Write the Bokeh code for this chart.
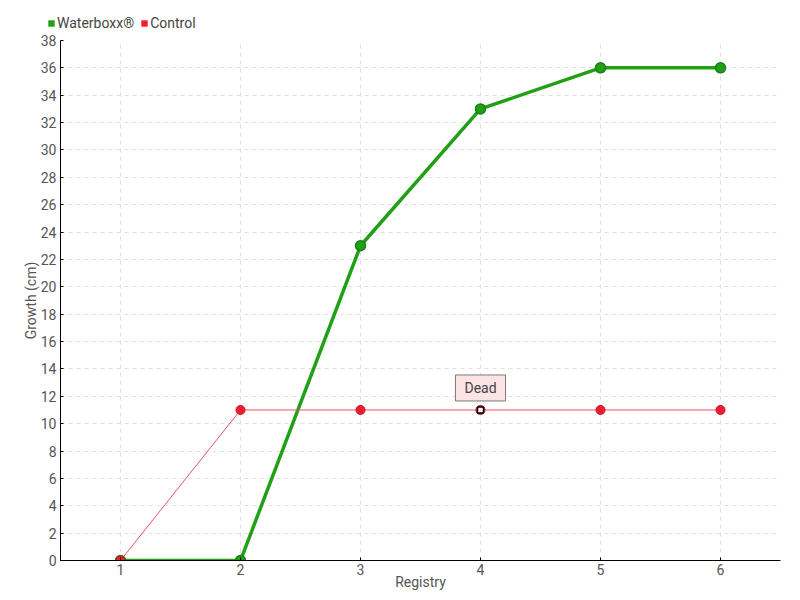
from bokeh.plotting import figure
from bokeh.layouts import column
from bokeh.models import ColumnDataSource, Legend, LegendItem, Label, FixedTicker, Range1d
from bokeh.embed import file_html
from bokeh.resources import INLINE

registry = [1, 2, 3, 4, 5, 6]
waterboxx = [0, 0, 23, 33, 36, 36]
control = [0, 11, 11, 11, 11, 11]
dead_x = [4]
dead_y = [11]
y_ticks = list(range(0, 40, 2))
series_names = ["Waterboxx®", "Control"]

FONT = "Roboto, sans-serif"
GREEN = "#22a015"
GREEN_DARK = "#17801a"
RED = "#ee1c2e"
RED_LINE = "#f2505e"

p = figure(frame_width=720, frame_height=520,
           output_backend="svg", toolbar_location=None,
           x_range=Range1d(0.5, 6.5), y_range=Range1d(0, 38),
           min_border_left=60, min_border_top=8, min_border_right=12, min_border_bottom=32)
p.outline_line_color = None

src_w = ColumnDataSource(dict(x=registry, y=waterboxx))
src_c = ColumnDataSource(dict(x=registry, y=control))

p.line("x", "y", source=src_w, line_color=GREEN, line_width=3.5)
p.line("x", "y", source=src_c, line_color=RED_LINE, line_width=1)
p.scatter("x", "y", source=src_w, size=10, fill_color=GREEN, line_color=GREEN_DARK, line_width=1.5)
p.scatter("x", "y", source=src_c, size=9, fill_color=RED, line_color="#c01525", line_width=1)

lbl = Label(x=dead_x[0], y=dead_y[0], text="Dead", text_align="center", text_baseline="bottom",
            y_offset=9, text_font=FONT, text_font_size="14px", text_color="#444444",
            background_fill_color="#fde4e4", border_line_color="#777777", border_line_width=1,
            padding=(9, 5))
p.add_layout(lbl)
p.scatter(dead_x, dead_y, marker="square", size=6, fill_color="white", line_color="black", line_width=1.5)

for ax in (p.xaxis[0], p.yaxis[0]):
    ax.axis_line_color = "black"
    ax.major_tick_line_color = "black"
    ax.minor_tick_line_color = None
    ax.major_label_text_font = FONT
    ax.major_label_text_font_size = "14px"
    ax.major_label_text_color = "#555555"
    ax.axis_label_text_font = FONT
    ax.axis_label_text_font_size = "14px"
    ax.axis_label_text_color = "#555555"
    ax.axis_label_text_font_style = "normal"
    ax.major_tick_out = 0
    ax.major_tick_in = 3

p.xaxis.ticker = FixedTicker(ticks=registry)
p.yaxis.ticker = FixedTicker(ticks=y_ticks)
p.xaxis.axis_label = "Registry"
p.yaxis.axis_label = "Growth (cm)"
p.xaxis.axis_label_standoff = -4
p.yaxis.axis_label_standoff = -1
p.xaxis.major_label_standoff = 3
p.yaxis.major_label_standoff = 4

for g in (p.xgrid[0], p.ygrid[0]):
    g.grid_line_color = "#e0e0e0"
    g.grid_line_dash = "4 4"
    g.grid_line_width = 1

# legend strip above the chart
lg = figure(frame_width=792, frame_height=32, output_backend="svg", toolbar_location=None,
            x_range=Range1d(0, 1), y_range=Range1d(0, 1),
            min_border=0, min_border_left=0, min_border_right=0, min_border_top=0, min_border_bottom=0)
lg.outline_line_color = None
lg.xaxis.visible = False
lg.yaxis.visible = False
lg.grid.visible = False
lw = lg.quad(left=[-5], right=[-4], bottom=[-5], top=[-4], fill_color=GREEN, line_color=None)
lc = lg.quad(left=[-5], right=[-4], bottom=[-5], top=[-4], fill_color=RED, line_color=None)
legend = Legend(items=[LegendItem(label=series_names[0], renderers=[lw]),
                       LegendItem(label=series_names[1], renderers=[lc])],
                orientation="horizontal", location=(47, 1),
                glyph_width=8, glyph_height=8, label_standoff=2, spacing=6,
                label_text_font=FONT, label_text_font_size="14px", label_text_color="#444444",
                background_fill_alpha=0, border_line_color=None, padding=2, margin=0)
lg.add_layout(legend)

layout = column(lg, p, spacing=0)
open("out.html", "w").write(file_html(layout, INLINE))
